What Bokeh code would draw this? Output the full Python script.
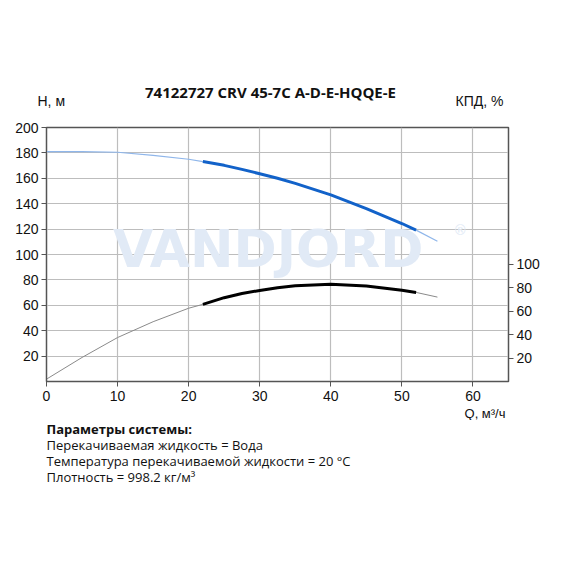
from bokeh.plotting import figure
from bokeh.models import Range1d, LinearAxis, FixedTicker, Title
from bokeh.layouts import column
from bokeh.core.properties import value
from bokeh.embed import file_html
from bokeh.resources import INLINE

title_text = "74122727 CRV 45-7C A-D-E-HQQE-E"
q_values = [0, 5, 10, 15, 20, 22, 25, 27.5, 30, 32.5, 35, 40, 45, 50, 52, 55]
head_values = [181, 181, 180.5, 178, 175, 173.2, 170.2, 167, 163.6, 160, 156, 147, 136.2, 124.4, 119.2, 110.5]
eff_values = [2, 20.5, 37.5, 51, 62.5, 65.8, 71.5, 75, 77.7, 80, 81.6, 83, 81.4, 77.8, 76, 72]
op_start, op_end = 22, 52
x_ticks = [0, 10, 20, 30, 40, 50, 60]
h_ticks = [20, 40, 60, 80, 100, 120, 140, 160, 180, 200]
eff_ticks = [20, 40, 60, 80, 100]
params_title = "Параметры системы:"
params_lines = [
    "Перекачиваемая жидкость = Вода",
    "Температура перекачиваемой жидкости = 20 °C",
    "Плотность = 998.2 кг/м³",
]

W = 554
TOP_H = 120


def blank_fig(h):
    f = figure(width=W, height=h, output_backend="svg", toolbar_location=None,
               x_range=Range1d(0, W), y_range=Range1d(0, h),
               min_border=0, min_border_left=0, min_border_right=0,
               min_border_top=0, min_border_bottom=0, frame_align=False)
    f.axis.visible = False
    f.grid.visible = False
    f.outline_line_color = None
    f.background_fill_color = "white"
    f.border_fill_color = "white"
    return f


# ---- top texts
top = blank_fig(TOP_H)
top.text(x=[270], y=[TOP_H - 91], text=[title_text], text_font=value("Open Sans"),
         text_font_style="bold", text_font_size="15px", text_color="#111111",
         text_align="center", text_baseline="middle")
top.text(x=[37], y=[TOP_H - 100], text=["H, м"], text_font=value("Liberation Sans"),
         text_font_size="14px", text_color="#111111", text_align="left", text_baseline="middle")
top.text(x=[455], y=[TOP_H - 100], text=["КПД, %"], text_font=value("Liberation Sans"),
         text_font_size="14px", text_color="#111111", text_align="left", text_baseline="middle")

# ---- main chart
p = figure(width=W, height=300, output_backend="svg", toolbar_location=None,
           x_range=Range1d(0, 65), y_range=Range1d(0, 200),
           min_border_left=46, min_border_right=46, min_border_top=7, min_border_bottom=33,
           frame_align=False)
p.extra_y_ranges = {"eff": Range1d(0, 260 / 1.2)}

p.outline_line_color = "#555555"
p.outline_line_width = 1.5
p.background_fill_color = "white"
p.border_fill_color = "white"

for ax in [p.xaxis[0], p.yaxis[0]]:
    ax.major_label_text_font = "Liberation Sans"
    ax.major_label_text_font_size = "14px"
    ax.major_label_text_color = "#111111"
    ax.minor_tick_line_color = None
    ax.major_tick_out = 5
    ax.major_tick_in = 0
    ax.axis_line_color = "#555555"
    ax.major_tick_line_color = "#555555"
p.xaxis[0].ticker = FixedTicker(ticks=x_ticks)
p.yaxis[0].ticker = FixedTicker(ticks=h_ticks)
p.xaxis[0].major_label_standoff = 4
p.yaxis[0].major_label_standoff = 3

ax2 = LinearAxis(y_range_name="eff", ticker=FixedTicker(ticks=eff_ticks))
ax2.major_label_text_font = "Liberation Sans"
ax2.major_label_text_font_size = "14px"
ax2.major_label_text_color = "#111111"
ax2.minor_tick_line_color = None
ax2.major_tick_out = 5
ax2.major_tick_in = 0
ax2.axis_line_color = "#555555"
ax2.major_tick_line_color = "#555555"
ax2.major_label_standoff = 3
p.add_layout(ax2, "right")

q_title = Title(text="Q, м³/ч", align="right", text_font="Liberation Sans",
                text_font_size="13px", text_font_style="normal", text_color="#111111",
                offset=3, standoff=0)
p.add_layout(q_title, "below")

p.xgrid.ticker = FixedTicker(ticks=x_ticks[1:])
p.ygrid.ticker = FixedTicker(ticks=h_ticks)
p.xgrid.grid_line_color = "#bdbdbd"
p.ygrid.grid_line_color = "#bdbdbd"
p.xgrid.grid_line_width = 1.2
p.ygrid.grid_line_width = 1.2

# watermark
p.text(x=[31.2], y=[104.5], text=["VANDJORD"], text_font=value("DejaVu Sans"),
       text_font_style="bold", text_font_size="52px", text_color="#e1eaf6",
       text_align="center", text_baseline="middle")
p.text(x=[58.2], y=[119], text=["®"], text_font=value("DejaVu Sans"),
       text_font_size="14px", text_color="#e1eaf6", text_align="center", text_baseline="middle")

i0 = q_values.index(op_start)
i1 = q_values.index(op_end)

# head curve
p.line(q_values[:i0 + 1], head_values[:i0 + 1], line_color="#8fb6ea", line_width=1.2, line_join="round")
p.line(q_values[i1:], head_values[i1:], line_color="#8fb6ea", line_width=1.2, line_join="round")
p.line(q_values[i0:i1 + 1], head_values[i0:i1 + 1], line_color="#1262c9", line_width=3, line_join="round")

# efficiency curve
p.line(q_values[:i0 + 1], eff_values[:i0 + 1], line_color="#8a8a8a", line_width=1,
       y_range_name="eff", line_join="round")
p.line(q_values[i1:], eff_values[i1:], line_color="#8a8a8a", line_width=1,
       y_range_name="eff", line_join="round")
p.line(q_values[i0:i1 + 1], eff_values[i0:i1 + 1], line_color="black", line_width=3,
       y_range_name="eff", line_join="round")

# ---- bottom texts
BOT_TOP = TOP_H + 300
BOT_H = 80
bot = blank_fig(BOT_H)
bot.text(x=[46], y=[BOT_TOP + BOT_H - 428], text=[params_title], text_font=value("Open Sans"),
         text_font_style="bold", text_font_size="13px", text_color="#111111",
         text_align="left", text_baseline="middle")
bot.text(x=[46] * len(params_lines),
         y=[BOT_TOP + BOT_H - (444 + 16 * k) for k in range(len(params_lines))],
         text=params_lines, text_font=value("Open Sans"), text_font_size="13px",
         text_color="#111111", text_align="left", text_baseline="middle")

layout = column(top, p, bot, spacing=0)
open("out.html", "w").write(file_html(layout, INLINE))
